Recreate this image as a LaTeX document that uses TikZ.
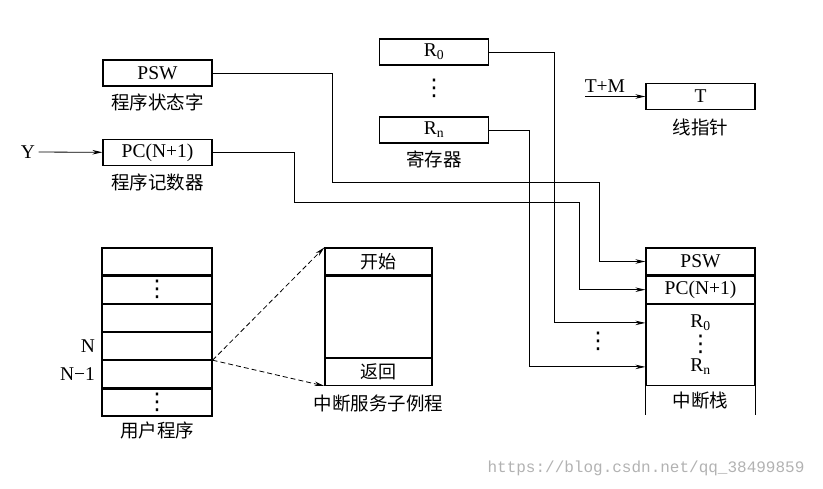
\documentclass[tikz,border=0pt]{standalone}
\usepackage{fontspec}
\setmainfont{Liberation Serif}
\newfontfamily\cjk{Noto Sans CJK SC}
\newfontfamily\symf{DejaVu Sans}
\newfontfamily\urlf{Liberation Mono}
\usetikzlibrary{positioning,arrows.meta}

\begin{document}
\begin{tikzpicture}[x=1pt, y=-1pt,
    box/.style={draw, line width=1.2pt, minimum width=109pt, minimum height=26pt, inner sep=0pt, font=\fontsize{19.5}{21}\selectfont},
    cell/.style={draw, line width=1.2pt, minimum width=110pt, minimum height=27pt, inner sep=0pt, font=\fontsize{19.5}{21}\selectfont},
    cjkcell/.style={cell, font=\cjk\fontsize{18}{20}\selectfont},
    caption/.style={font=\cjk\fontsize{18.5}{20}\selectfont},
    plain/.style={font=\fontsize{19.5}{21}\selectfont},
    vdts/.style={font=\symf\fontsize{23}{25}\selectfont, inner sep=0pt},
    arr/.style={line width=0.8pt, -{Stealth[length=10pt,width=4.5pt]}},
    link/.style={line width=0.8pt, dash pattern=on 5pt off 3pt, -{Stealth[length=10pt,width=4.5pt]}}
    ]
    \useasboundingbox (0,0) rectangle (823,489);

    %Registers on top
    \node[box]      (psw)       at (157.5,73)       {PSW};
    \node[caption]  (pswcap)    [below=4pt of psw]  {程序状态字};
    \node[box]      (pc)        at (157.5,152.5)    {PC(N+1)};
    \node[caption]  (pccap)     [below=4pt of pc]   {程序记数器};
    \node[plain]    (y)         at (28,152)         {Y};

    \node[box]      (r0)        at (434,52)         {R\textsubscript{0}};
    \node[vdts]     (rdots)     at (434,88)         {⋮};
    \node[box]      (rn)        at (434,130)        {R\textsubscript{n}};
    \node[caption]  (rcap)      [below=4pt of rn]   {寄存器};

    \node[box]      (tptr)      at (700.5,96.5)     {T};
    \node[caption]  (tcap)      [below=5pt of tptr] {线指针};
    \coordinate     (tin)       at (585,96.5);

    %User program
    \node[cell]     (u1)        at (157,261.5)      {};
    \node[cell]     (u2)        [below=0pt of u1]   {};
    \node[cell]     (u3)        [below=0pt of u2]   {};
    \node[cell]     (u4)        [below=0pt of u3]   {};
    \node[cell]     (u5)        [below=0pt of u4]   {};
    \node[cell]     (u6)        [below=0pt of u5]   {};
    \node[vdts]     (u2dots)    at (u2)             {⋮};
    \node[vdts]     (u6dots)    at (u6)             {⋮};
    \node[plain]    (nlab)      [left=3pt of u4]    {N};
    \node[plain]    (n1lab)     [left=3pt of u5]    {N−1};
    \node[caption]  (ucap)      [below=2pt of u6]   {用户程序};

    %Interrupt routine
    \node[cjkcell, minimum width=107pt]                     (sbeg)  at (378.5,261.5)        {开始};
    \node[cell, minimum width=107pt, minimum height=81pt]  (sbody) [below=0pt of sbeg]     {};
    \node[cjkcell, minimum width=107pt]                     (sret)  [below=0pt of sbody]    {返回};
    \node[caption]  (scap)      [below=5pt of sret] {中断服务子例程};

    %Stack
    \node[cell, minimum width=109pt]                        (spsw)  at (700.5,261.5)        {PSW};
    \node[cell, minimum width=109pt]                        (spc)   [below=0pt of spsw]     {PC(N+1)};
    \node[cell, minimum width=109pt, minimum height=81pt]  (sreg)  [below=0pt of spc]      {};
    \node[plain]    (sr0)       at ([yshift=22pt]sreg.center)   {R\textsubscript{0}};
    \node[vdts]     (sdots)     at ([yshift=1pt]sreg.center)    {⋮};
    \node[plain]    (srn)       at ([yshift=-22pt]sreg.center)  {R\textsubscript{n}};
    \node[caption]  (sbot)      at ([yshift=-14pt]sreg.south)   {中断栈};
    \draw[line width=1.2pt] (sreg.south west) -- ++(0,29) (sreg.south east) -- ++(0,29);
    \coordinate     (e0)        at (sr0 -| sreg.west);
    \coordinate     (en)        at (srn -| sreg.west);
    \node[vdts]     (ldots)     at (598,341)        {⋮};

    %Lines
    \draw[arr]  (y) -- (pc);
    \draw[arr]  (tin) -- node[plain, above, pos=0.33] (tmlab) {T+M} (tptr);

    \draw[arr]  (psw.east) -| ++(120,109) -| ([xshift=-46pt]spsw.west) -- (spsw.west);
    \draw[arr]  (pc.east) -| ++(82,50) -| ([xshift=-66pt]spc.west) -- (spc.west);
    \draw[arr]  (r0.east) -| ([xshift=-91pt]e0) -- (e0);
    \draw[arr]  (rn.east) -| ([xshift=-116pt]en) -- (en);

    \draw[link] (u4.south east) -- (sbeg.north west);
    \draw[link] (u4.south east) -- (sret.south west);

    \node[font=\urlf\fontsize{16}{18}\selectfont, text=black!30] (url) at (646,468) {https://blog.csdn.net/qq\_38499859};

\end{tikzpicture}
\end{document}
